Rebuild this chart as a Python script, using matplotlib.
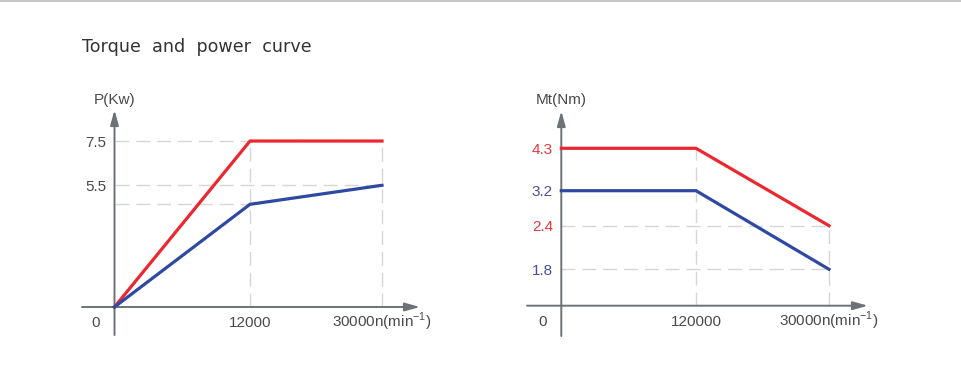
import matplotlib.pyplot as plt
import numpy as np
from matplotlib.lines import Line2D

plt.rcParams['font.family'] = ['Liberation Sans', 'DejaVu Sans']
plt.rcParams['mathtext.fontset'] = 'custom'
plt.rcParams['mathtext.rm'] = 'Liberation Sans'

# data
speeds = [0, 12000, 30000]
power_red = [0, 7.5, 7.5]
power_blue = [0, 4.64, 5.5]
torque_red = [4.3, 4.3, 2.4]
torque_blue = [3.2, 3.2, 1.8]

power_ticks = [5.5, 7.5]
torque_ticks = [1.8, 2.4, 3.2, 4.3]
torque_tick_colors = ['#4a4fa0', '#e8383e', '#4a4fa0', '#e8383e']
left_xlabels = ['12000', '30000n(min$^{-1}$)']
right_xlabels = ['120000', '30000n(min$^{-1}$)']

RED = '#ec2730'
BLUE = '#2f49a3'
AXC = '#6d7276'
GRID = '#d6d6d6'
TXT = '#4a4a4a'
W, H = 962, 369


def piecewise(xp, fp):
    # piecewise linear, straight extrapolation on both ends
    xp = np.asarray(xp, float)
    fp = np.asarray(fp, float)
    s0 = (fp[1] - fp[0]) / (xp[1] - xp[0])
    s1 = (fp[-1] - fp[-2]) / (xp[-1] - xp[-2])

    def f(v):
        v = np.asarray(v, float)
        return np.where(v < xp[0], fp[0] + (v - xp[0]) * s0,
                        np.where(v > xp[-1], fp[-1] + (v - xp[-1]) * s1,
                                 np.interp(v, xp, fp)))
    return f


def make_ax(fig, x0, x1, y0, y1):
    return fig.add_axes([x0 / W, 1 - y1 / H, (x1 - x0) / W, (y1 - y0) / H])


def setup(ax, px_left, px_right, px_bottom, px_top, xline, yline):
    # axis lines with arrows, ends given in axes fraction
    ax_w = px_right - px_left
    ax_h = px_bottom - px_top
    for s in ax.spines.values():
        s.set_visible(False)
    ax.spines['bottom'].set_position(('data', 0))
    ax.spines['left'].set_position(('data', 0))
    arrow = dict(arrowstyle='-|>,head_length=0.9,head_width=0.25', color=AXC, lw=1.4,
                 shrinkA=0, shrinkB=0)
    ax.annotate('', xy=((xline[1] - px_left) / ax_w, 0), xytext=((xline[0] - px_left) / ax_w, 0),
                xycoords=ax.get_yaxis_transform(), arrowprops=arrow, annotation_clip=False)
    ax.annotate('', xy=(0, (px_bottom - yline[1]) / ax_h), xytext=(0, (px_bottom - yline[0]) / ax_h),
                xycoords=ax.get_xaxis_transform(), arrowprops=arrow, annotation_clip=False)
    ax.annotate('0', xy=(0, 0), xytext=(-13.5, -11.5), textcoords='offset points',
                ha='center', va='center', fontsize=11, color=TXT)
    ax.tick_params(axis='both', length=0, labelsize=11, labelcolor=TXT, pad=6)
    ax.tick_params(axis='x', pad=14.5)
    ax.set_xticks(speeds[1:], minor=True)
    ax.tick_params(axis='x', which='minor', length=5, direction='in', color='#333333', width=1)


def fix_xlabels(ax):
    for lab in ax.get_xticklabels():
        lab.set_verticalalignment('baseline')


fig = plt.figure(figsize=(W / 100, H / 100), dpi=100)
fig.add_artist(Line2D([0, 1], [1 - 1 / H, 1 - 1 / H], color='#c8c8c8', lw=1.5))
fig.text(82 / W, 1 - 47 / H, 'Torque  and  power  curve', fontsize=12.6, color='#333333',
         family='DejaVu Sans', va='center', ha='left')

# ---- power chart ----
L = (60, 440, 345, 90)
ax1 = make_ax(fig, L[0], L[1], L[3], L[2])
fx1 = piecewise(speeds, [0, 135.5, 267.5])
ix1 = piecewise([0, 135.5, 267.5], speeds)
ax1.set_xscale('function', functions=(fx1, ix1))
ax1.set_xlim(float(ix1(L[0] - 114.5)), float(ix1(L[1] - 114.5)))
py = 22.13
ax1.set_ylim((307 - L[2]) / py, (307 - L[3]) / py)
setup(ax1, L[0], L[1], L[2], L[3], (82, 420), (335, 110))

ax1.vlines(speeds[1:], 0, max(power_red), color=GRID, lw=1, linestyles=(0, (10, 5)), zorder=1)
ax1.hlines([power_red[1], power_blue[2]], 0, speeds[2], color=GRID, lw=1, linestyles=(0, (10, 5)), zorder=1)
ax1.hlines(power_blue[1], 0, speeds[1], color=GRID, lw=1, linestyles=(0, (10, 5)), zorder=1)
ax1.plot(speeds, power_red, color=RED, lw=2.3, zorder=3, solid_joinstyle='miter')
ax1.plot(speeds, power_blue, color=BLUE, lw=2.3, zorder=3, solid_joinstyle='miter')
ax1.set_xticks(speeds[1:], left_xlabels)
fix_xlabels(ax1)
ax1.set_yticks(power_ticks, [str(v) for v in power_ticks])
ax1.text(0, (L[2] - 100) / (L[2] - L[3]), 'P(Kw)', transform=ax1.get_xaxis_transform(),
         ha='center', va='center', fontsize=11, color=TXT)

# ---- torque chart ----
R = (505, 890, 345, 90)
ax2 = make_ax(fig, R[0], R[1], R[3], R[2])
fx2 = piecewise(speeds, [0, 134.7, 267.7])
ix2 = piecewise([0, 134.7, 267.7], speeds)
ax2.set_xscale('function', functions=(fx2, ix2))
ax2.set_xlim(float(ix2(R[0] - 561.3)), float(ix2(R[1] - 561.3)))
fy2 = piecewise([0] + torque_ticks, [0, 36.4, 80, 115, 157.4])
iy2 = piecewise([0, 36.4, 80, 115, 157.4], [0] + torque_ticks)
ax2.set_yscale('function', functions=(fy2, iy2))
ax2.set_ylim(float(iy2(305.7 - R[2])), float(iy2(305.7 - R[3])))
setup(ax2, R[0], R[1], R[2], R[3], (527, 868), (336, 111))

ax2.vlines(speeds[1], 0, torque_red[1], color=GRID, lw=1, linestyles=(0, (10, 5)), zorder=1)
ax2.vlines(speeds[2], 0, torque_red[2], color=GRID, lw=1, linestyles=(0, (10, 5)), zorder=1)
ax2.hlines([torque_red[2], torque_blue[2]], 0, speeds[2], color=GRID, lw=1, linestyles=(0, (10, 5)), zorder=1)
ax2.plot(speeds, torque_red, color=RED, lw=2.3, zorder=3, solid_joinstyle='miter')
ax2.plot(speeds, torque_blue, color=BLUE, lw=2.3, zorder=3, solid_joinstyle='miter')
ax2.set_xticks(speeds[1:], right_xlabels)
fix_xlabels(ax2)
ax2.set_yticks(torque_ticks, [str(v) for v in torque_ticks])
for lab, c in zip(ax2.get_yticklabels(), torque_tick_colors):
    lab.set_color(c)
ax2.text(0, (R[2] - 100) / (R[2] - R[3]), 'Mt(Nm)', transform=ax2.get_xaxis_transform(),
         ha='center', va='center', fontsize=11, color=TXT)

fig.savefig('out.png', dpi=100, facecolor='white')
